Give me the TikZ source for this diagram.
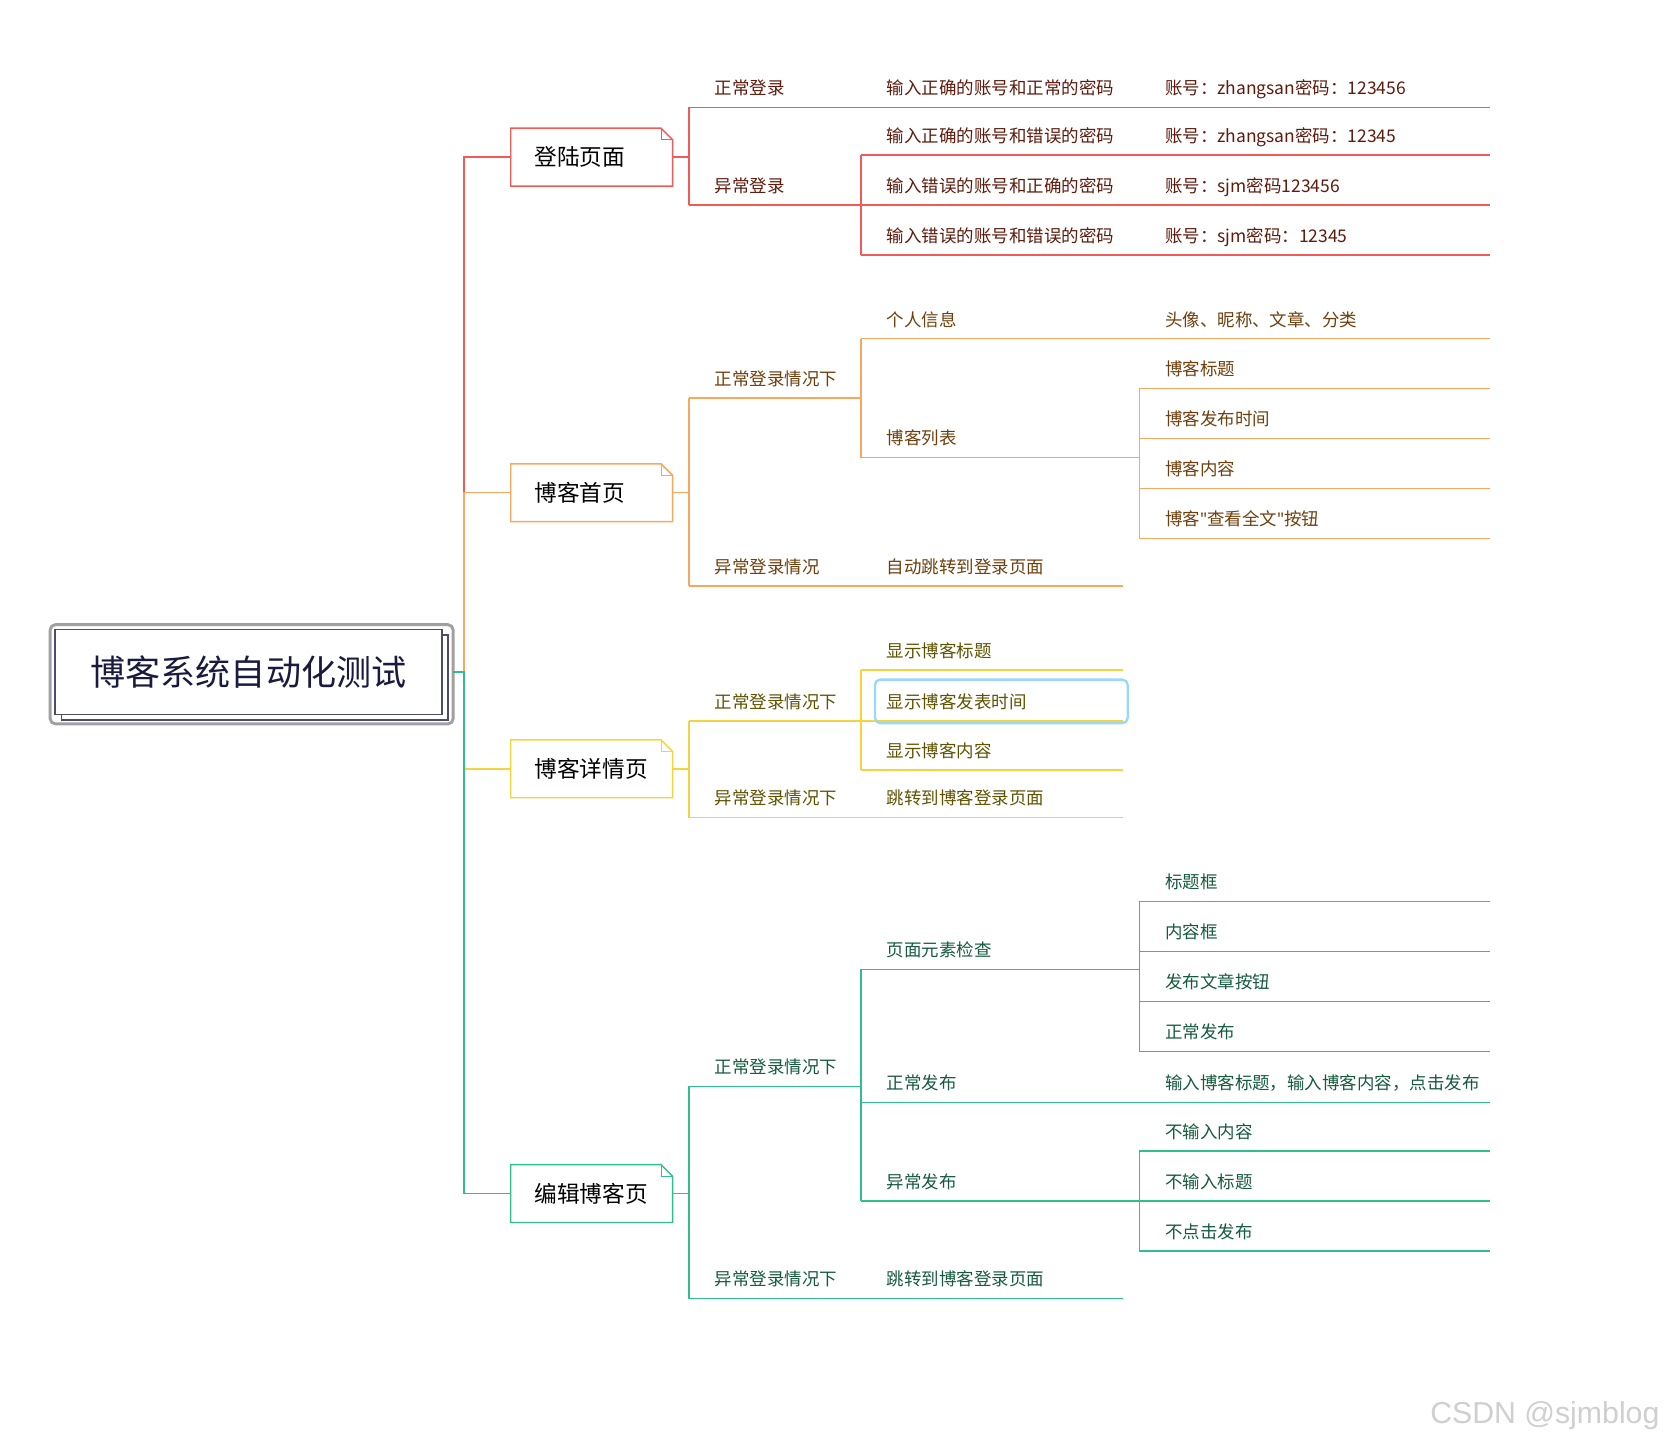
\documentclass[tikz,border=0pt]{standalone}
\usepackage{fontspec}
\setmainfont{Noto Sans CJK SC}
\newfontfamily\wmfont{Liberation Sans}
\newfontfamily\latinfont{Noto Sans}
\usetikzlibrary{calc}
\def\u{0.7964pt}
\definecolor{cred}{HTML}{F25A57}
\definecolor{cora}{HTML}{F8A75E}
\definecolor{cyel}{HTML}{F6D33C}
\definecolor{cgrn}{HTML}{2FBF8E}
\definecolor{tred}{HTML}{5E1A0C}
\definecolor{tora}{HTML}{6E3F0C}
\definecolor{tyel}{HTML}{5E5200}
\definecolor{tgrn}{HTML}{155A3E}
\definecolor{navy}{HTML}{4B4B6B}
\definecolor{rootc}{HTML}{1A1A40}
\definecolor{framegray}{HTML}{A0A0A0}
\definecolor{selblue}{HTML}{9AD8F8}
\definecolor{wmgray}{HTML}{CFCFCF}
\tikzset{
  lbl/.style={anchor=base west, inner sep=0pt, font=\fontsize{13.1}{15}\selectfont},
  topicbox/.style={minimum width=152*\u, minimum height=54*\u, inner xsep=22*\u,
    text width=108*\u, align=left, font=\fontsize{17}{20}\selectfont, text=black, anchor=west},
  ln/.style={line width=1.1pt},
}
\newcommand\lab[6]{%
  \coordinate (#1-s) at (#2,#4);
  \coordinate (#1-e) at (#3,#4);
  \path (#1-s) ++(24,-12) node[lbl,text=t#5] (#1) {#6};
  \draw[ln,c#5] (#1-s) -- (#1-e);
}
\newcommand\topicoutline[2]{%
  \draw[ln,#2] (#1.south west) -- (#1.north west) -- ([xshift=-11*\u]#1.north east)
     -- ([yshift=-11*\u]#1.north east) -- (#1.south east) -- cycle;
  \draw[line width=0.7pt,#2] ([xshift=-11*\u]#1.north east) -- ([xshift=-11*\u,yshift=-11*\u]#1.north east)
     -- ([yshift=-11*\u]#1.north east);
}
\begin{document}
\begin{tikzpicture}[x=\u,y=-\u]
\useasboundingbox (0,0) rectangle (1568,1359);

% root
\coordinate (rootc0) at (234,633);
\draw[navy,line width=1.2pt,fill=white] ($(rootc0)+(-182+6,-40+5)$) rectangle ($(rootc0)+(182+6,40+5)$);
\node[draw=navy, line width=1.2pt, fill=white, minimum width=364*\u, minimum height=80*\u,
      font=\fontsize{26.3}{30}\selectfont, text=rootc] (root) at (rootc0) {博客系统自动化测试};
\draw[framegray, rounded corners=5*\u, line width=2.2pt]
  ([xshift=-4*\u,yshift=-8*\u]root.south west) rectangle ([xshift=10*\u,yshift=4*\u]root.north east);
\coordinate (rootR) at ([xshift=10*\u]root.east);
\coordinate (trunk) at (437,633);

% topics
\node[topicbox] (t1) at (481,148) {登陆页面};
\node[topicbox] (t2) at (481,464) {博客首页};
\node[topicbox] (t3) at (481,724) {博客详情页};
\node[topicbox] (t4) at (481,1124) {编辑博客页};
\topicoutline{t1}{cred}
\topicoutline{t2}{cora}
\topicoutline{t3}{cyel}
\topicoutline{t4}{cgrn}

\draw[ln,cred] (rootR) -- (trunk) |- (t1.west);
\draw[ln,cora] (rootR) -- (trunk) |- (t2.west);
\draw[ln,cyel] (rootR) -- (trunk) |- (t3.west);
\draw[ln,cgrn] (rootR) -- (trunk) |- (t4.west);

% login page
\lab{a1}{649}{811}{101}{red}{正常登录}
\lab{a11}{811}{1073}{101}{red}{输入正确的账号和正常的密码}
\lab{a111}{1073}{1403}{101}{red}{账号：zhangsan密码：123456}
\lab{a2}{649}{811}{193}{red}{异常登录}
\lab{a21}{811}{1073}{146}{red}{输入正确的账号和错误的密码}
\lab{a211}{1073}{1403}{146}{red}{账号：zhangsan密码：12345}
\lab{a22}{811}{1073}{193}{red}{输入错误的账号和正确的密码}
\lab{a221}{1073}{1403}{193}{red}{账号：sjm密码123456}
\lab{a23}{811}{1073}{240}{red}{输入错误的账号和错误的密码}
\lab{a231}{1073}{1403}{240}{red}{账号：sjm密码：12345}
\draw[ln,cred] (a1-s) -- (a2-s);
\draw[ln,cred] (a21-s) -- (a23-s);
\draw[ln,cred] (t1.east) -- (t1.east -| a1-s);

% home page
\lab{b1}{649}{811}{375}{ora}{正常登录情况下}
\lab{b11}{811}{1073}{319}{ora}{个人信息}
\lab{b111}{1073}{1403}{319}{ora}{头像、昵称、文章、分类}
\lab{b12}{811}{1073}{431}{ora}{博客列表}
\lab{b121}{1073}{1403}{366}{ora}{博客标题}
\lab{b122}{1073}{1403}{413}{ora}{博客发布时间}
\lab{b123}{1073}{1403}{460}{ora}{博客内容}
\lab{b124}{1073}{1403}{507}{ora}{博客{\latinfont"}查看全文{\latinfont"}按钮}
\lab{b2}{649}{811}{552}{ora}{异常登录情况}
\lab{b21}{811}{1058}{552}{ora}{自动跳转到登录页面}
\draw[ln,cora] (b1-s) -- (b2-s);
\draw[ln,cora] (b11-s) -- (b12-s);
\draw[ln,cora] (b121-s) -- (b124-s);
\draw[ln,cora] (t2.east) -- (t2.east -| b1-s);

% detail page
\lab{c1}{649}{811}{679}{yel}{正常登录情况下}
\lab{c11}{811}{1058}{631}{yel}{显示博客标题}
\lab{c12}{811}{1058}{679}{yel}{显示博客发表时间}
\lab{c13}{811}{1058}{725}{yel}{显示博客内容}
\lab{c2}{649}{811}{770}{yel}{异常登录情况下}
\lab{c21}{811}{1058}{770}{yel}{跳转到博客登录页面}
\draw[ln,cyel] (c1-s) -- (c2-s);
\draw[ln,cyel] (c11-s) -- (c13-s);
\draw[ln,cyel] (t3.east) -- (t3.east -| c1-s);
\draw[selblue, line width=1.8pt, rounded corners=5*\u] ($(c12-s)+(13,-39)$) rectangle ($(c12-e)+(4,2)$);

% edit page
\lab{d1}{649}{811}{1023}{grn}{正常登录情况下}
\lab{d11}{811}{1073}{913}{grn}{页面元素检查}
\lab{d111}{1073}{1403}{849}{grn}{标题框}
\lab{d112}{1073}{1403}{896}{grn}{内容框}
\lab{d113}{1073}{1403}{943}{grn}{发布文章按钮}
\lab{d114}{1073}{1403}{990}{grn}{正常发布}
\lab{d12}{811}{1073}{1038}{grn}{正常发布}
\lab{d121}{1073}{1403}{1038}{grn}{输入博客标题，输入博客内容，点击发布}
\lab{d13}{811}{1073}{1131}{grn}{异常发布}
\lab{d131}{1073}{1403}{1084}{grn}{不输入内容}
\lab{d132}{1073}{1403}{1131}{grn}{不输入标题}
\lab{d133}{1073}{1403}{1178}{grn}{不点击发布}
\lab{d2}{649}{811}{1223}{grn}{异常登录情况下}
\lab{d21}{811}{1058}{1223}{grn}{跳转到博客登录页面}
\draw[ln,cgrn] (d1-s) -- (d2-s);
\draw[ln,cgrn] (d11-s) -- (d13-s);
\draw[ln,cgrn] (d111-s) -- (d114-s);
\draw[ln,cgrn] (d131-s) -- (d133-s);
\draw[ln,cgrn] (t4.east) -- (t4.east -| d1-s);

% watermark
\node[font=\wmfont\fontsize{22.7}{26}\selectfont, text=wmgray, anchor=base east, inner sep=0pt] (wm) at (1563,1341) {CSDN @sjmblog};
\end{tikzpicture}
\end{document}
